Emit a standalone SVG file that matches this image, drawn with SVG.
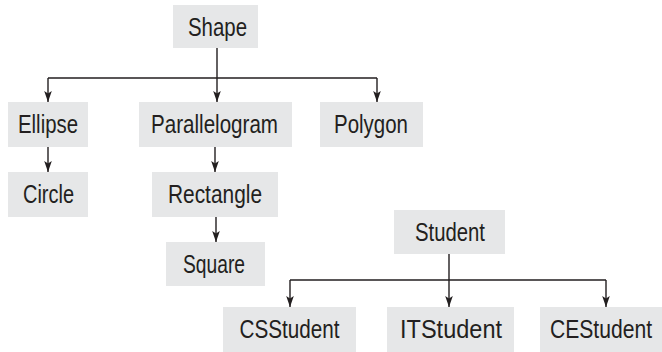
<svg xmlns="http://www.w3.org/2000/svg" width="662" height="352" viewBox="0 0 662 352">
<style>
.box{fill:#e6e7e8;}
.lbl{font-family:"Liberation Sans",Arial,Helvetica,sans-serif;font-size:26px;fill:#231f20;text-anchor:middle;}
.ln{fill:none;stroke:#231f20;stroke-width:1.4;}
.ar{fill:none;stroke:#231f20;stroke-width:1.4;marker-end:url(#ah);}
</style>
<defs>
<marker id="ah" markerUnits="userSpaceOnUse" markerWidth="12" markerHeight="10" viewBox="0 0 12 10" refX="11" refY="5" orient="auto">
<path d="M0,1.2 L11,5 L0,8.8 L2.5,5 Z" fill="#231f20"/>
</marker>
</defs>
<rect width="662" height="352" fill="#ffffff"/>
<g id="connectors">
<path class="ln" d="M217,48 V78 M48,78 H377"/>
<path class="ar" d="M48,78 V102"/>
<path class="ar" d="M217,78 V102"/>
<path class="ar" d="M377,78 V102"/>
<path class="ar" d="M48,147 V172"/>
<path class="ar" d="M215,147 V172"/>
<path class="ar" d="M216,217 V242"/>
<path class="ln" d="M449,254 V280 M290,280 H606"/>
<path class="ar" d="M290,280 V307"/>
<path class="ar" d="M449,280 V307"/>
<path class="ar" d="M606,280 V307"/>
</g>
<g id="shape"><rect class="box" x="173" y="5" width="85" height="43"/><text class="lbl" x="217.5" y="35.5" textLength="59" lengthAdjust="spacingAndGlyphs">Shape</text></g>
<g id="ellipse"><rect class="box" x="8" y="102" width="80" height="45"/><text class="lbl" x="48" y="133" textLength="60" lengthAdjust="spacingAndGlyphs">Ellipse</text></g>
<g id="parallelogram"><rect class="box" x="139" y="102" width="153" height="45"/><text class="lbl" x="214.5" y="133" textLength="127" lengthAdjust="spacingAndGlyphs">Parallelogram</text></g>
<g id="polygon"><rect class="box" x="320" y="102" width="103" height="45"/><text class="lbl" x="371" y="133" textLength="74" lengthAdjust="spacingAndGlyphs">Polygon</text></g>
<g id="circle"><rect class="box" x="8" y="172" width="80" height="45"/><text class="lbl" x="48.5" y="203" textLength="51" lengthAdjust="spacingAndGlyphs">Circle</text></g>
<g id="rectangle"><rect class="box" x="152" y="172" width="126" height="45"/><text class="lbl" x="215" y="203" textLength="94" lengthAdjust="spacingAndGlyphs">Rectangle</text></g>
<g id="square"><rect class="box" x="166" y="242" width="99" height="44"/><text class="lbl" x="214" y="273" textLength="62" lengthAdjust="spacingAndGlyphs">Square</text></g>
<g id="student"><rect class="box" x="394" y="210" width="111" height="44"/><text class="lbl" x="450" y="241" textLength="70" lengthAdjust="spacingAndGlyphs">Student</text></g>
<g id="csstudent"><rect class="box" x="223" y="307" width="133" height="45"/><text class="lbl" x="289.5" y="338" textLength="100" lengthAdjust="spacingAndGlyphs">CSStudent</text></g>
<g id="itstudent"><rect class="box" x="387" y="307" width="127" height="45"/><text class="lbl" x="451" y="338" textLength="102" lengthAdjust="spacingAndGlyphs">ITStudent</text></g>
<g id="cestudent"><rect class="box" x="540" y="307" width="122" height="45"/><text class="lbl" x="601" y="338" textLength="102" lengthAdjust="spacingAndGlyphs">CEStudent</text></g>
</svg>
